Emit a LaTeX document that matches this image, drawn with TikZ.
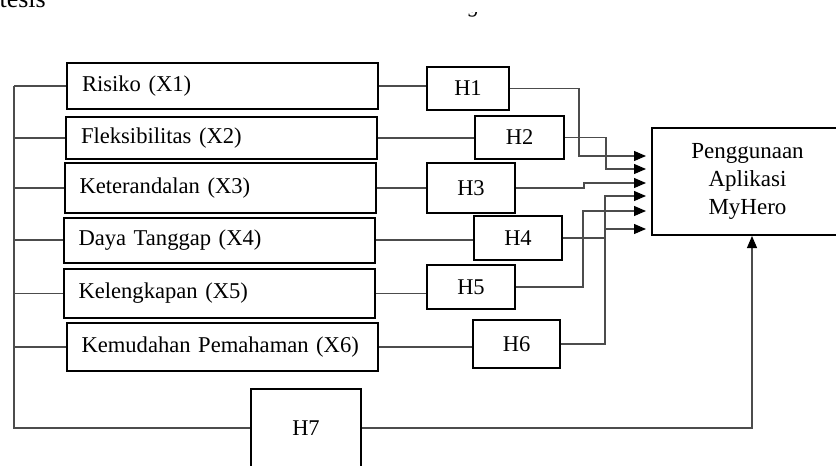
\documentclass[tikz,border=0pt]{standalone}
\usepackage{fontspec}
\setmainfont{Liberation Serif}
\usepackage{tikz}
\usetikzlibrary{arrows.meta,positioning,calc}

\begin{document}
\begin{tikzpicture}[x=1pt,y=-1pt,
  xbox/.style={
    draw, line width=2pt,
    minimum width=311pt, text width=281pt, inner xsep=15pt,
    align=left, font=\fontsize{22.6}{26}\selectfont
  },
  hbox/.style={
    draw, line width=2pt, inner sep=0pt,
    align=center, font=\fontsize{22.5}{26}\selectfont
  },
  ybox/.style={
    draw, line width=2pt, inner sep=0pt,
    minimum width=191pt, minimum height=107pt,
    align=center, font=\fontsize{23}{28}\selectfont
  },
  link/.style={draw=black!70, line width=1.1pt},
  arrow/.style={link, -{Triangle[length=12pt,width=10pt,black]}, shorten >=5pt}
]
\useasboundingbox (0,0) rectangle (836,466);
\clip (0,0) rectangle (836,466);

% cut-off text of the page
\node[font=\fontsize{26}{30}\selectfont, inner sep=0pt, anchor=base east] (cut) at (46,7) {tesis};
\begin{scope}
  \clip (455,12.5) rectangle (495,22);
  \node[font=\fontsize{22}{26}\selectfont\itshape, inner sep=0pt, anchor=base] (cutg) at (474,12.5) {g};
\end{scope}

% variables
\node[xbox, minimum height=46pt] (x1) at (222.5,86) {Risiko (X1)};
\node[xbox, minimum height=42pt] (x2) at (221.5,138) {Fleksibilitas (X2)};
\node[xbox, minimum height=50pt] (x3) at (220,188) {Keterandalan (X3)};
\node[xbox, minimum height=45pt] (x4) at (219,240) {Daya Tanggap (X4)};
\node[xbox, minimum height=49pt] (x5) at (219,293.5) {Kelengkapan (X5)};
\node[xbox, minimum height=48pt] (x6) at (222,347) {Kemudahan Pemahaman (X6)};

% hypotheses
\node[hbox, minimum width=82pt, minimum height=43pt] (h1) at (468,88.5) {H1};
\node[hbox, minimum width=89pt, minimum height=43pt] (h2) at (519.5,137.5) {H2};
\node[hbox, minimum width=88pt, minimum height=50pt] (h3) at (471,188) {H3};
\node[hbox, minimum width=88pt, minimum height=44pt] (h4) at (518,238) {H4};
\node[hbox, minimum width=88pt, minimum height=44pt] (h5) at (471,287) {H5};
\node[hbox, minimum width=87pt, minimum height=48pt] (h6) at (516.5,344) {H6};
\node[hbox, minimum width=110pt, minimum height=78pt] (h7) at (306,428) {H7};

% dependent variable
\node[ybox] (y) at (747.5,181.5) {Penggunaan\\Aplikasi\\MyHero};

\coordinate (bus) at (14,0);

% left bus
\draw[link] (x1.west -| bus) |- (h7.west);
\foreach \n in {1,...,6}
  \draw[link] (x\n.west -| bus) -- (x\n.west);

% variable to hypothesis
\foreach \n in {1,...,6}
  \draw[link] (x\n.east) -- (x\n.east -| h\n.west);

% hypothesis to dependent variable
\draw[arrow] (h1.east) -- ++(69,0) |- ([yshift=25.5pt]y.west);
\draw[arrow] (h2.east) -- ++(41,0) |- ([yshift=12.5pt]y.west);
\draw[arrow] (h3.east) -- ++(68,0) |- ([yshift=-1.5pt]y.west);
\draw[arrow] (h6.east) -- ++(44,0) |- ([yshift=-14.5pt]y.west);
\draw[arrow] (h5.east) -- ++(67,0) |- ([yshift=-29.5pt]y.west);
\draw[arrow] (h4.east) -- ++(42,0) |- ([yshift=-47.5pt]y.west);
\draw[arrow, shorten >=0pt] (h7.east) -| ([xshift=4.5pt]y.south);
\end{tikzpicture}
\end{document}
